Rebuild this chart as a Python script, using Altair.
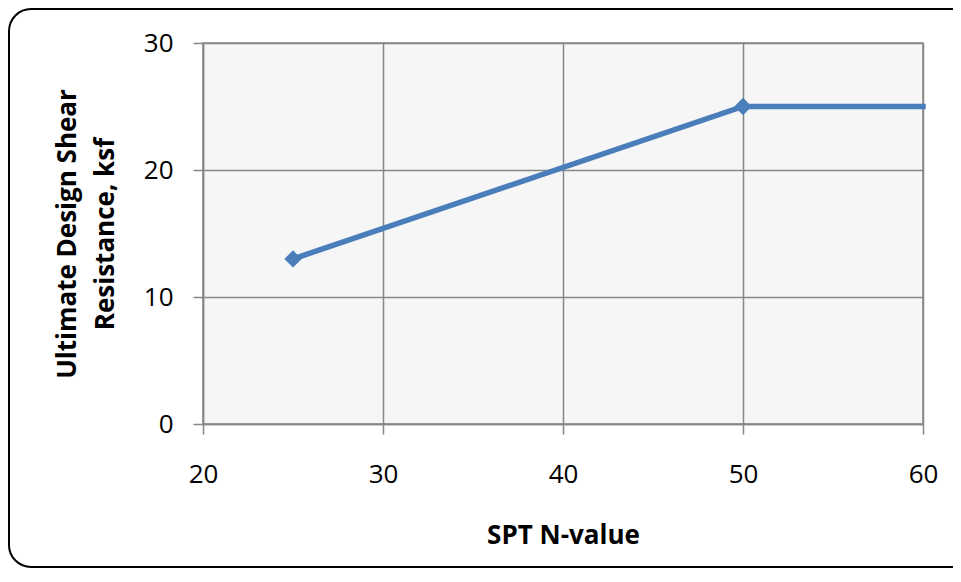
import altair as alt
import pandas as pd

n_values = [25, 50, 60]
resistance = [13, 25, 25]
has_marker = [True, True, False]

x_ticks = [20, 30, 40, 50, 60]
y_ticks = [0, 10, 20, 30]

df = pd.DataFrame({"n": n_values, "r": resistance, "m": has_marker})

FONT = "Open Sans"
GRAY = "#878787"
BLUE = "#4a7ebb"

x_enc = alt.X("n:Q", scale=alt.Scale(domain=[20, 60], nice=False),
              axis=alt.Axis(values=x_ticks, title="SPT N-value", labelFlush=False,
                            titleY=119, titleBaseline="alphabetic"))
y_enc = alt.Y("r:Q", scale=alt.Scale(domain=[0, 30], nice=False),
              axis=alt.Axis(values=y_ticks, labelFlush=False,
                            title=["Ultimate Design Shear", "Resistance, ksf"],
                            titleX=-128, titleBaseline="alphabetic",
                            titleLineHeight=38))

border = alt.Chart(alt.Data(values=[{}])).mark_rect(
    fill="transparent", stroke="black", strokeWidth=2, cornerRadius=22
).encode(
    x=alt.value(-194), x2=alt.value(770),
    y=alt.value(-34), y2=alt.value(524)
)

line = alt.Chart(df).mark_line(color=BLUE, strokeWidth=5.5, strokeCap="square").encode(
    x=x_enc, y=y_enc
)

points = alt.Chart(df).transform_filter("datum.m").mark_point(
    shape="diamond", filled=True, color=BLUE, size=300, opacity=1
).encode(x="n:Q", y="r:Q")

chart = alt.layer(border, line, points).properties(
    width=720, height=381,
    autosize=alt.AutoSizeParams(type="none"),
    padding={"left": 195, "top": 35, "right": 30, "bottom": 146},
).configure_view(
    fill="#f6f6f6", stroke=GRAY, strokeWidth=1.5
).configure_axis(
    grid=True, gridColor=GRAY, gridWidth=1.5, gridOpacity=1,
    domainColor=GRAY, domainWidth=1.5,
    tickColor=GRAY, tickWidth=1.5, tickSize=10,
    labelFont=FONT, labelFontSize=26, labelColor="black",
    titleFont=FONT, titleFontSize=26, titleFontWeight="bold", titleColor="black",
).configure_axisX(
    labelPadding=27
).configure_axisY(
    labelPadding=20
)

chart.save("out.html", embed_options={"renderer": "svg", "actions": False})
